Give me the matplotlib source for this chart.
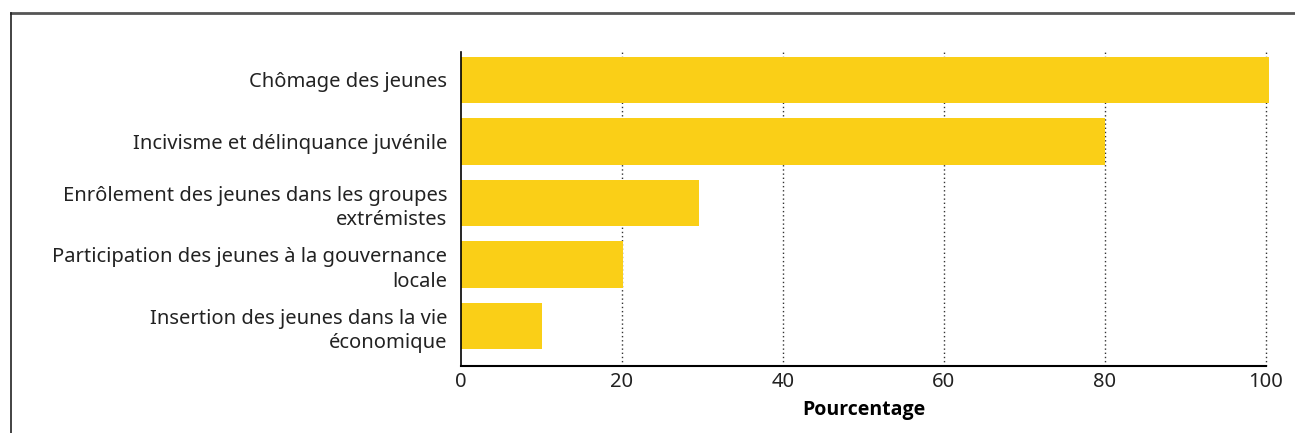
import matplotlib.pyplot as plt
from matplotlib.lines import Line2D

categories = [
    "Chômage des jeunes",
    "Incivisme et délinquance juvénile",
    "Enrôlement des jeunes dans les groupes\nextrémistes",
    "Participation des jeunes à la gouvernance\nlocale",
    "Insertion des jeunes dans la vie\néconomique",
]
values = [100.4, 80.0, 29.6, 20.1, 10.0]
xticks = [0, 20, 40, 60, 80, 100]

plt.rcParams['font.family'] = ['Noto Sans', 'DejaVu Sans']

W, H = 1295, 433
fig = plt.figure(figsize=(W / 100, H / 100), dpi=100)
ax = fig.add_axes([461 / W, 1 - 366 / H, (1266 - 461) / W, (366 - 52) / H])

ypos = list(range(len(categories)))
ax.barh(ypos, values, height=0.75, color="#facf17", zorder=2, clip_on=False)

ax.set_xlim(0, 100)
ax.set_ylim(4.65, -0.455)
ax.set_yticks(ypos)
ax.set_yticklabels(categories, fontsize=14.5, color="#222222", linespacing=1.3)
ax.set_xticks(xticks)
ax.set_xticklabels([str(t) for t in xticks], fontsize=14.5, color="#222222")
ax.tick_params(axis="both", length=0)
ax.tick_params(axis="y", pad=10)
ax.tick_params(axis="x", pad=4)

for x in xticks[1:]:
    ax.axvline(x, linestyle=(0, (1, 2)), color="#333333", linewidth=1,
               zorder=0, clip_on=False)

for side in ["top", "right"]:
    ax.spines[side].set_visible(False)
ax.spines["left"].set_color("black")
ax.spines["bottom"].set_color("black")
ax.spines["left"].set_linewidth(1.2)
ax.spines["bottom"].set_linewidth(1.5)

ax.set_xlabel("Pourcentage", fontsize=14, fontweight="bold", family="Open Sans",
              labelpad=6)

# outer frame (cut off at right and bottom)
fig.add_artist(Line2D([11.5 / W, 1.0], [1 - 12.5 / H, 1 - 12.5 / H],
                      transform=fig.transFigure, color="#555555", linewidth=2))
fig.add_artist(Line2D([11.5 / W, 11.5 / W], [1 - 12.5 / H, 0],
                      transform=fig.transFigure, color="#222222", linewidth=1.2))

fig.savefig("out.png", dpi=100)
